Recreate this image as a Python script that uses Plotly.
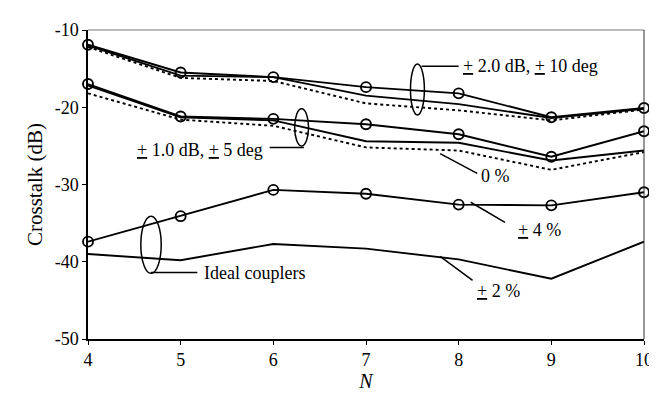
import plotly.graph_objects as go

N = [4, 5, 6, 7, 8, 9, 10]

# Top group: +/-2.0 dB, +/-10 deg
top_4pct = [-11.9, -15.5, -16.1, -17.4, -18.2, -21.3, -20.1]
top_2pct = [-12.0, -15.9, -16.1, -18.5, -19.6, -21.4, -20.2]
top_0pct = [-12.2, -16.2, -16.6, -19.5, -20.4, -21.7, -20.3]

# Middle group: +/-1.0 dB, +/-5 deg
mid_4pct = [-17.0, -21.2, -21.5, -22.2, -23.5, -26.4, -23.1]
mid_2pct = [-17.2, -21.3, -21.7, -24.4, -24.6, -26.9, -25.6]
mid_0pct = [-18.2, -21.6, -22.4, -25.2, -25.6, -28.1, -25.8]

# Bottom group: ideal couplers
ideal_4pct = [-37.4, -34.1, -30.7, -31.2, -32.6, -32.7, -31.0]
ideal_2pct = [-39.0, -39.8, -37.7, -38.3, -39.7, -42.2, -37.4]

x_ticks = [4, 5, 6, 7, 8, 9, 10]
y_ticks = [-50, -40, -30, -20, -10]
y_tick_text = ["-50", "-40", "-30", "-20", "-10"]

FONT = "Liberation Serif, Times New Roman, serif"

fig = go.Figure()

def add_line(y, marker=False, dash="solid"):
    fig.add_trace(go.Scatter(
        x=N, y=y,
        mode="lines+markers" if marker else "lines",
        line=dict(color="black", width=1.9, dash=dash),
        marker=dict(symbol="circle-open", size=10, color="black",
                    line=dict(width=1.9, color="black")),
        showlegend=False, cliponaxis=False,
    ))

add_line(top_0pct, dash="3px,3px")
add_line(top_2pct)
add_line(top_4pct, marker=True)
add_line(mid_0pct, dash="3px,3px")
add_line(mid_2pct)
add_line(mid_4pct, marker=True)
add_line(ideal_2pct)
add_line(ideal_4pct, marker=True)

# Ellipses (group markers)
ellipses = [
    (7.48, 7.63, -14.4, -21.0),
    (6.23, 6.38, -20.2, -25.0),
    (4.57, 4.79, -34.1, -41.5),
]
for x0, x1, y0, y1 in ellipses:
    fig.add_shape(type="circle", xref="x", yref="y", x0=x0, x1=x1, y0=y0, y1=y1,
                  line=dict(color="black", width=1.5))

# Leader lines
leaders = [
    (7.60, -14.7, 8.00, -14.7),
    (5.96, -25.2, 6.33, -25.2),
    (4.68, -41.4, 5.18, -41.4),
    (7.80, -26.0, 8.20, -28.55),
    (8.13, -32.3, 8.50, -34.9),
    (7.80, -39.3, 8.15, -42.4),
]
for x0, y0, x1, y1 in leaders:
    fig.add_shape(type="line", xref="x", yref="y", x0=x0, y0=y0, x1=x1, y1=y1,
                  line=dict(color="black", width=1.5))

# top/right frame
fig.add_shape(type="line", xref="paper", yref="paper", x0=0, x1=1, y0=1, y1=1,
              line=dict(color="#777777", width=1))
fig.add_shape(type="line", xref="paper", yref="paper", x0=1, x1=1, y0=0, y1=1,
              line=dict(color="#333333", width=1))

labels = [
    (8.02, -14.7, "<u>+</u> 2.0 dB, <u>+</u> 10 deg", "left"),
    (5.91, -25.5, "<u>+</u> 1.0 dB, <u>+</u> 5 deg", "right"),
    (5.23, -41.4, "Ideal couplers", "left"),
    (8.22, -28.9, "0 %", "left"),
    (8.62, -35.9, "<u>+</u> 4 %", "left"),
    (8.18, -43.8, "<u>+</u> 2 %", "left"),
]
for x, y, t, anchor in labels:
    fig.add_annotation(x=x, y=y, xref="x", yref="y", text=t, showarrow=False,
                       xanchor=anchor, yanchor="middle", xshift=0,
                       font=dict(family=FONT, size=18, color="black"))

fig.update_layout(
    width=657, height=397,
    margin=dict(l=80, r=20, t=13, b=66),
    paper_bgcolor="white", plot_bgcolor="white",
    font=dict(family=FONT, size=18, color="black"),
    xaxis=dict(range=[4, 10], tickvals=x_ticks, ticks="outside", ticklen=4,
               tickcolor="black", showgrid=False, zeroline=False, showline=True,
               linecolor="black", linewidth=1.5,
               title=dict(text="<i>N</i>", font=dict(family=FONT, size=20), standoff=4)),
    yaxis=dict(range=[-50, -10], tickvals=y_ticks, ticktext=y_tick_text,
               ticks="outside", ticklen=4, tickcolor="black",
               showgrid=False, zeroline=False, showline=True, linecolor="black",
               linewidth=1.5,
               title=dict(text="Crosstalk (dB)", font=dict(family=FONT, size=21), standoff=6)),
)

fig.write_html("out.html")
